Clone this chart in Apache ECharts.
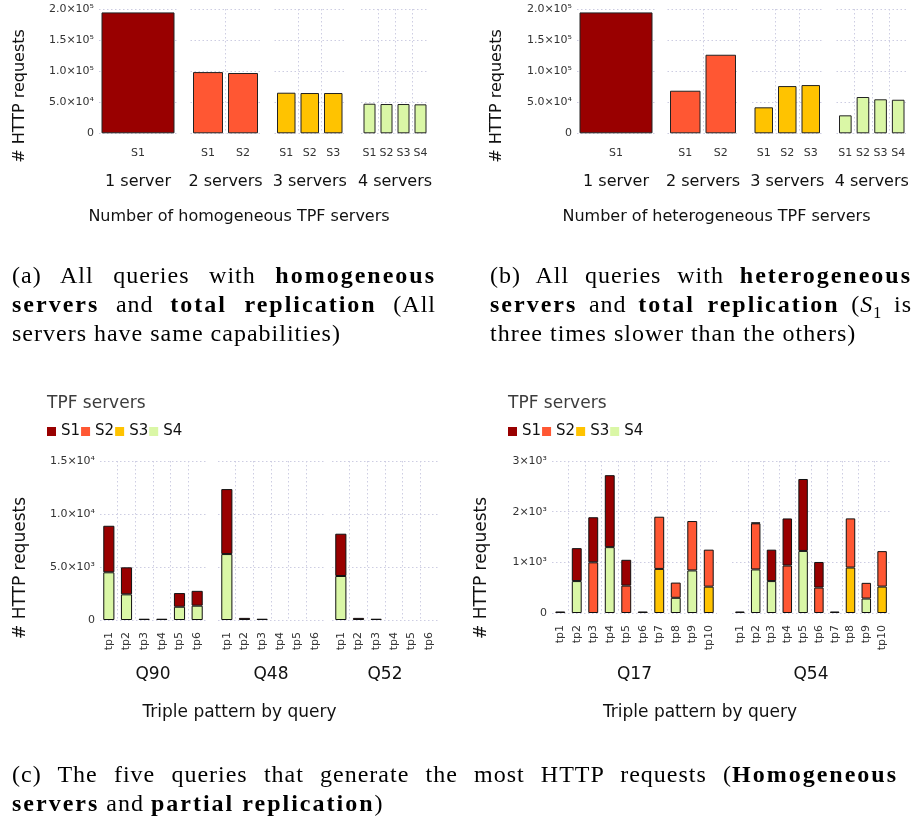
<!DOCTYPE html>
<html><head><meta charset="utf-8">
<script src="https://cdn.jsdelivr.net/npm/echarts@6/dist/echarts.min.js"></script>
<style>
html,body{margin:0;padding:0;background:#fff;}
#chart{position:absolute;left:0;top:0;width:914px;height:819px;}
.cap{position:absolute;font-family:"Liberation Serif",serif;font-size:24px;line-height:29px;color:#000;letter-spacing:1px;}
.cap div{white-space:nowrap;}
.cap .j{text-align:justify;text-align-last:justify;white-space:normal;}
.cap b{font-weight:bold;letter-spacing:2px;}
</style></head>
<body>
<div id="chart"></div>
<div class="cap" style="left:12px;top:261px;width:424px;">
 <div class="j">(a) All queries with <b>homogeneous</b></div>
 <div class="j"><b>servers</b> and <b>total replication</b> (All</div>
 <div>servers have same capabilities)</div>
</div>
<div class="cap" style="left:490px;top:261px;width:422px;">
 <div class="j">(b) All queries with <b>heterogeneous</b></div>
 <div class="j"><b>servers</b> and <b>total replication</b> (<i>S</i><sub style="font-size:16px;line-height:0">1</sub> is</div>
 <div>three times slower than the others)</div>
</div>
<div class="cap" style="left:12px;top:760px;width:886px;">
 <div class="j">(c) The five queries that generate the most HTTP requests (<b>Homogeneous</b></div>
 <div><b>servers</b> and <b>partial replication</b>)</div>
</div>
<script>
// ---------- data ----------
const serverGroups = ['1 server', '2 servers', '3 servers', '4 servers'];
const serverNames = [['S1'], ['S1', 'S2'], ['S1', 'S2', 'S3'], ['S1', 'S2', 'S3', 'S4']];
const homogeneousRequests = [[194500], [98500, 97000], [65300, 64800, 64800], [47600, 47100, 47100, 46600]];
const heterogeneousRequests = [[194500], [68500, 126400], [41800, 76000, 77600], [28900, 58400, 54700, 54000]];
const yTicksAB = [0, 50000, 100000, 150000, 200000];
const yLabelsAB = ['0', '5.0×10⁴', '1.0×10⁵', '1.5×10⁵', '2.0×10⁵'];

const legendServers = ['S1', 'S2', 'S3', 'S4'];
const tpSix = ['tp1', 'tp2', 'tp3', 'tp4', 'tp5', 'tp6'];
const tpTen = ['tp1', 'tp2', 'tp3', 'tp4', 'tp5', 'tp6', 'tp7', 'tp8', 'tp9', 'tp10'];
const queriesLeft = ['Q90', 'Q48', 'Q52'];
const queriesRight = ['Q17', 'Q54'];
// rows: S1, S2, S3, S4
const q90 = [
  [4390, 2550, 120, 120, 1290, 1400],
  [null, null, null, null, null, null],
  [null, null, null, null, null, null],
  [4500, 2420, null, null, 1250, 1350]
];
const q48 = [
  [6130, 200, 120, null, null, null],
  [null, null, null, null, null, null],
  [null, null, null, null, null, null],
  [6220, null, null, null, null, null]
];
const q52 = [
  [3990, 200, 120, null, null, null],
  [null, null, null, null, null, null],
  [null, null, null, null, null, null],
  [4150, null, null, null, null, null]
];
const q17 = [
  [30, 650, 890, 1420, 510, 30, null, null, null, null],
  [null, null, 1000, null, 540, null, 1030, 300, 975, 730],
  [null, null, null, null, null, null, 870, null, null, 520],
  [null, 630, null, 1300, null, null, null, 300, 840, null]
];
const q54 = [
  [30, 15, 620, 930, 1420, 505, 30, null, null, null],
  [null, 910, null, 936, null, 502, null, 970, 310, 700],
  [null, null, null, null, null, null, null, 897, null, 521],
  [null, 860, 630, null, 1225, null, null, null, 285, null]
];
const yTicksL = [0, 5000, 10000, 15000];
const yLabelsL = ['0', '5.0×10³', '1.0×10⁴', '1.5×10⁴'];
const yTicksR = [0, 1000, 2000, 3000];
const yLabelsR = ['0', '1×10³', '2×10³', '3×10³'];

// ---------- styles / layout ----------
const serverColors = ['#990000', '#ff5733', '#ffc300', '#daf7a6'];
const FONT = 'DejaVu Sans';
const gridColor = '#cdcde2';
const dotted = [1.5, 2.5];

const grid = [], xAxis = [], yAxis = [], series = [];

function facet(o) {
  const gi = grid.length;
  grid.push({ left: o.left, top: o.top, width: o.width, height: o.height });
  const n = o.cats.length;
  xAxis.push({
    type: 'category', gridIndex: gi, data: o.cats, position: 'bottom',
    axisLine: { show: false }, axisTick: { show: false }, splitLine: { show: false },
    axisLabel: { fontSize: 11, color: '#333', margin: o.lm, rotate: o.rot || 0, fontFamily: FONT, interval: 0 },
    name: o.name, nameLocation: 'middle', nameGap: o.ng,
    nameTextStyle: { fontSize: o.nf, color: '#111', fontFamily: FONT }
  });
  const xi = xAxis.length - 1;
  const bounds = [];
  for (let i = 0; i <= n; i++) bounds.push('b' + i);
  xAxis.push({
    type: 'category', gridIndex: gi, data: bounds, boundaryGap: false, position: 'top',
    axisLine: { show: false }, axisTick: { show: false }, axisLabel: { show: false },
    splitLine: { show: true, interval: (i) => i > 0 && i < n, lineStyle: { color: gridColor, type: dotted, width: 1 } }
  });
  yAxis.push({
    type: 'value', gridIndex: gi, min: 0, max: o.ymax, interval: o.yint,
    axisLine: { show: false }, axisTick: { show: false },
    axisLabel: {
      show: o.showY, fontSize: 11, color: '#333', margin: 5, fontFamily: FONT,
      formatter: (v) => { const k = o.yticks.indexOf(v); return k >= 0 ? o.ylabels[k] : ''; }
    },
    splitLine: { show: true, lineStyle: { color: gridColor, type: dotted, width: 1 } }
  });
  return { xi: xi, yi: yAxis.length - 1 };
}

// panels (a) and (b)
const facetsA = [[99, 78], [190.5, 70], [274.5, 70.5], [361, 68]];
const facetsB = [[577, 78], [667.5, 71], [752, 70.5], [836.5, 70.5]];
function abPanel(facets, values) {
  serverGroups.forEach((g, k) => {
    const ax = facet({
      left: facets[k][0], width: facets[k][1], top: 9, height: 124.3,
      cats: serverNames[k], name: g, ng: 41, nf: 16, lm: 14,
      ymax: 200000, yint: 50000, yticks: yTicksAB, ylabels: yLabelsAB, showY: k === 0
    });
    series.push({
      type: 'bar', name: g, xAxisIndex: ax.xi, yAxisIndex: ax.yi, data: values[k],
      barCategoryGap: 5,
      itemStyle: { color: serverColors[k], borderColor: '#222', borderWidth: 1 }
    });
  });
}
abPanel(facetsA, homogeneousRequests);
abPanel(facetsB, heterogeneousRequests);

// panel (c)
function cPanel(facets, queries, datasets, cats, top, height, ymax, yint, yticks, ylabels, ng, lm, gap) {
  queries.forEach((q, k) => {
    const ax = facet({
      left: facets[k][0], width: facets[k][1], top: top, height: height,
      cats: cats, name: q, ng: ng, nf: 17, lm: lm, rot: 90,
      ymax: ymax, yint: yint, yticks: yticks, ylabels: ylabels, showY: k === 0
    });
    for (let s = 3; s >= 0; s--) {
      series.push({
        type: 'bar', name: legendServers[s], xAxisIndex: ax.xi, yAxisIndex: ax.yi,
        stack: 'st' + ax.xi, data: datasets[k][s], barCategoryGap: gap,
        itemStyle: { color: serverColors[s], borderColor: '#111', borderWidth: 1 }
      });
    }
  });
}
cPanel([[100, 106], [218, 106], [332, 106]], queriesLeft, [q90, q48, q52], tpSix,
  461, 159, 15000, 5000, yTicksL, yLabelsL, 46, 12, '37%');
cPanel([[552, 165], [732, 158]], queriesRight, [q17, q54], tpTen,
  461, 152, 3000, 1000, yTicksR, yLabelsR, 53, 12, '40%');

function txt(x, y, text, size, opts) {
  opts = opts || {};
  return {
    type: 'text', x: x, y: y, rotation: opts.rot || 0, silent: true,
    style: {
      text: text, font: size + 'px "' + FONT + '"', fill: opts.fill || '#111',
      textAlign: opts.align || 'center', textVerticalAlign: 'middle',
      align: opts.align || 'center', verticalAlign: 'middle'
    }
  };
}
const legendBase = {
  data: legendServers, top: 424, padding: 0, itemWidth: 9, itemHeight: 9, itemGap: 1, icon: 'rect',
  selectedMode: false, itemStyle: { borderWidth: 0 },
  textStyle: { fontSize: 15, color: '#111', fontFamily: FONT }
};

const chart = echarts.init(document.getElementById('chart'), null, { renderer: 'canvas' });
chart.setOption({
  animation: false,
  textStyle: { fontFamily: FONT },
  grid: grid, xAxis: xAxis, yAxis: yAxis, series: series,
  legend: [Object.assign({ left: 47 }, legendBase), Object.assign({ left: 508 }, legendBase)],
  graphic: [
    txt(20, 96, '# HTTP requests', 16, { rot: Math.PI / 2 }),
    txt(497, 96, '# HTTP requests', 16, { rot: Math.PI / 2 }),
    txt(239, 217, 'Number of homogeneous TPF servers', 16),
    txt(716.5, 217, 'Number of heterogeneous TPF servers', 16),
    txt(21, 568, '# HTTP requests', 17, { rot: Math.PI / 2 }),
    txt(482, 568, '# HTTP requests', 17, { rot: Math.PI / 2 }),
    txt(239.5, 713, 'Triple pattern by query', 17),
    txt(700, 713, 'Triple pattern by query', 17),
    txt(47, 404, 'TPF servers', 17, { align: 'left', fill: '#3c3c3c' }),
    txt(508, 404, 'TPF servers', 17, { align: 'left', fill: '#3c3c3c' })
  ]
});
</script>
</body></html>
